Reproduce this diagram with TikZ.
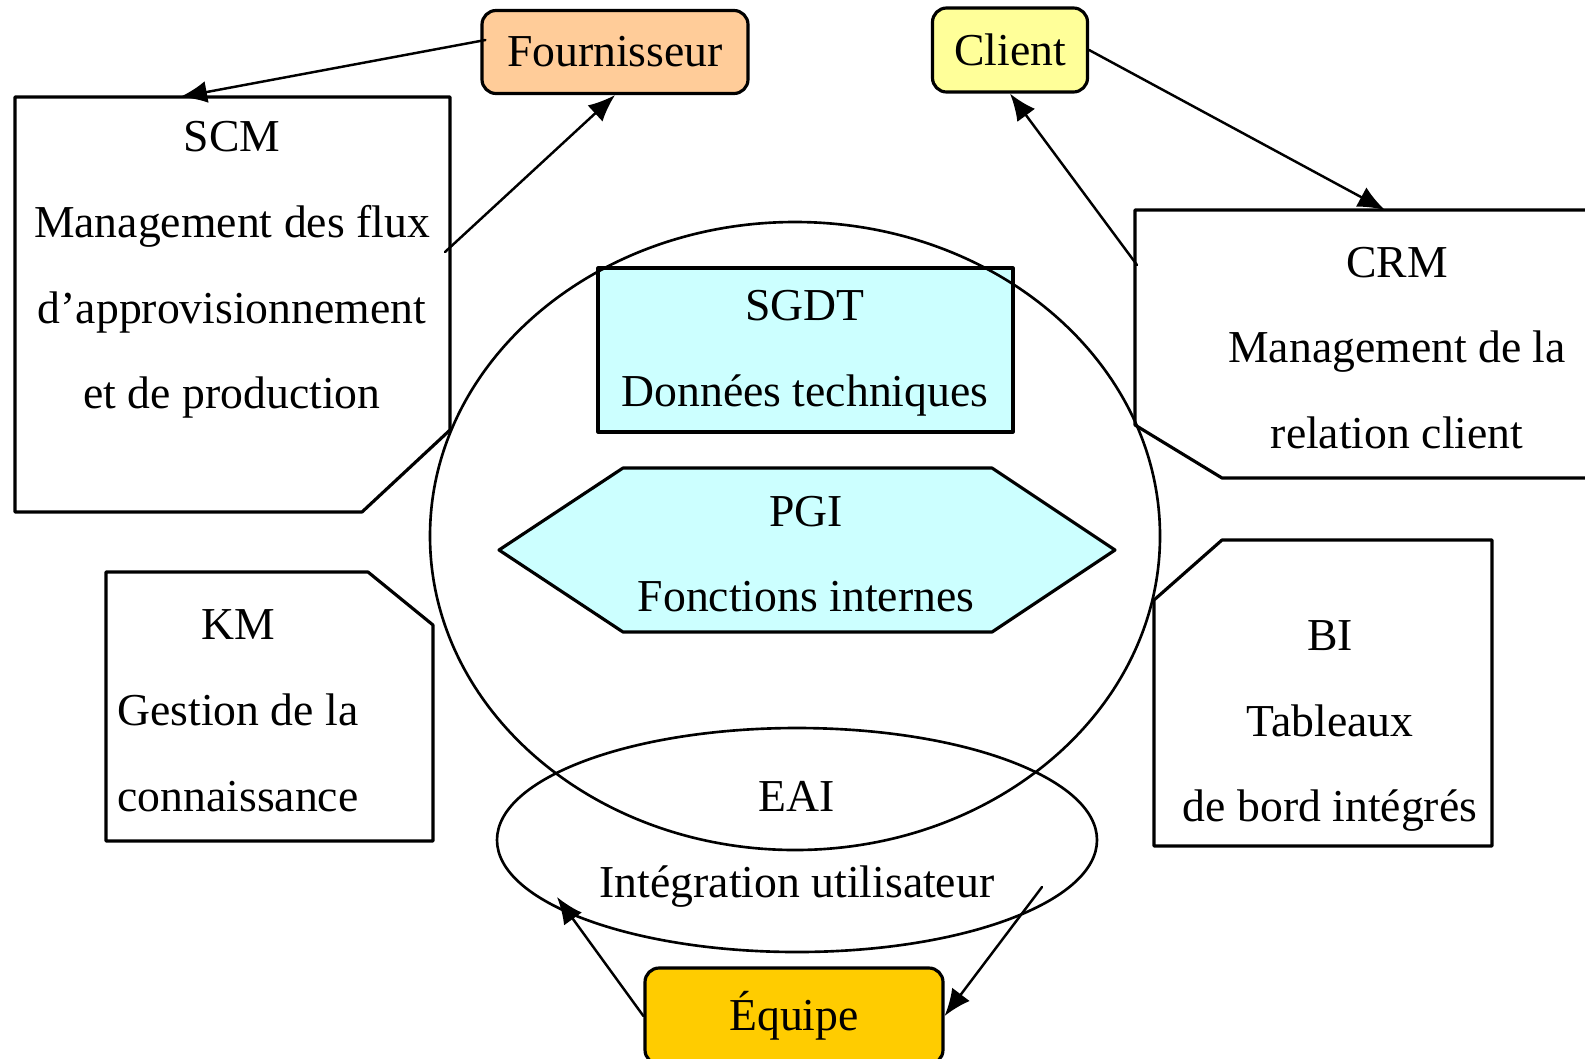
\documentclass[tikz,border=0pt]{standalone}
\usepackage{fontspec}
\setmainfont{Liberation Serif}
\usetikzlibrary{calc, arrows.meta}

\definecolor{peach}{HTML}{FFCC99}
\definecolor{lightyellow}{HTML}{FFFF99}
\definecolor{gold}{HTML}{FFCC00}
\definecolor{lightcyan}{HTML}{CCFFFF}

\tikzset{
	actor/.style = {draw, line width=0.9pt, rounded corners=4pt, inner sep=0pt, font=\fontsize{13}{16}\selectfont},
	txt/.style = {align=center, inner sep=0pt, font=\fontsize{13}{24.4}\selectfont},
	module/.style = {draw, line width=0.9pt},
	flow/.style = {line width=0.7pt, -{Latex[length=0.27cm, width=0.22cm]}},
}

\begin{document}
\begin{tikzpicture}[line cap = round, line join = round]
%		\draw (0,0) grid (16,11);
		\useasboundingbox (0,0) rectangle (15.85,10.58);
		
		% points on the outer modules
		\coordinate (scmIn) at (1.80,9.61);
		\coordinate (scmOut) at (4.45,8.06);
		\coordinate (crmIn) at (13.85,8.48);
		\coordinate (crmOut) at (11.37,7.93);
		\coordinate (eaiIn) at (5.57,1.61);
		\coordinate (eaiOut) at (10.42,1.71);
		
		% core of the system
		\draw[module, fill=lightcyan] (5.98,7.90) rectangle (10.13,6.26);
		\draw[module, fill=lightcyan] (6.23,5.90) -- (9.92,5.90) -- (11.15,5.08) -- (9.92,4.26) -- (6.23,4.26) -- (4.99,5.08) -- cycle;
		\draw[line width=0.75pt] (7.95,5.22) ellipse [x radius=3.65, y radius=3.14];
		\draw[line width=0.75pt] (7.97,2.18) ellipse [x radius=3.00, y radius=1.12];
		
		% outer modules
		\draw[module] (0.15,9.61) -- (4.50,9.61) -- (4.50,6.28) -- (3.62,5.46) -- (0.15,5.46) -- cycle;
		\draw[module] (11.35,8.48) -- (16.60,8.48) -- (16.60,5.80) -- (12.22,5.80) -- (11.35,6.33) -- cycle;
		\draw[module] (1.06,4.86) -- (3.68,4.86) -- (4.33,4.33) -- (4.33,2.17) -- (1.06,2.17) -- cycle;
		\draw[module] (12.22,5.18) -- (14.92,5.18) -- (14.92,2.12) -- (11.54,2.12) -- (11.54,4.58) -- cycle;
		
		\node[actor, fill=peach, minimum width=2.66cm, minimum height=0.83cm] (four) at (6.15,10.06) {Fournisseur};
		\node[actor, fill=lightyellow, minimum width=1.55cm, minimum height=0.84cm] (client) at (10.10,10.08) {Client};
		\node[actor, fill=gold, minimum width=2.98cm, minimum height=0.96cm] (equipe) at (7.94,0.42) {Équipe};
		
		\node[txt] (scm) at (2.32,7.88) {SCM\\Management des flux\\d’approvisionnement\\et de production};
		\node[txt] (crm) at (13.97,7.10) {CRM\\Management de la\\relation client};
		\node[txt] (km) at (2.38,3.47) {KM\\Gestion de la\\connaissance};
		\node[txt] (bi) at (13.30,3.32) {BI\\Tableaux\\de bord intégrés};
		\node[txt] (sgdt) at (8.05,7.05) {SGDT\\Données techniques};
		\node[txt] (pgi) at (8.06,5.04) {PGI\\Fonctions internes};
		\node[txt] (eai) at (7.97,2.14) {EAI\\Intégration utilisateur};
		
		\draw[flow] ($(four.west)+(0.05,0.12)$) -- (scmIn);
		\draw[flow] (scmOut) -- (four.south);
		\draw[flow] (client.east) -- (crmIn);
		\draw[flow] (crmOut) -- (client.south);
		\draw[flow] (equipe.west) -- (eaiIn);
		\draw[flow] (eaiOut) -- (equipe.east);
	\end{tikzpicture}
\end{document}
